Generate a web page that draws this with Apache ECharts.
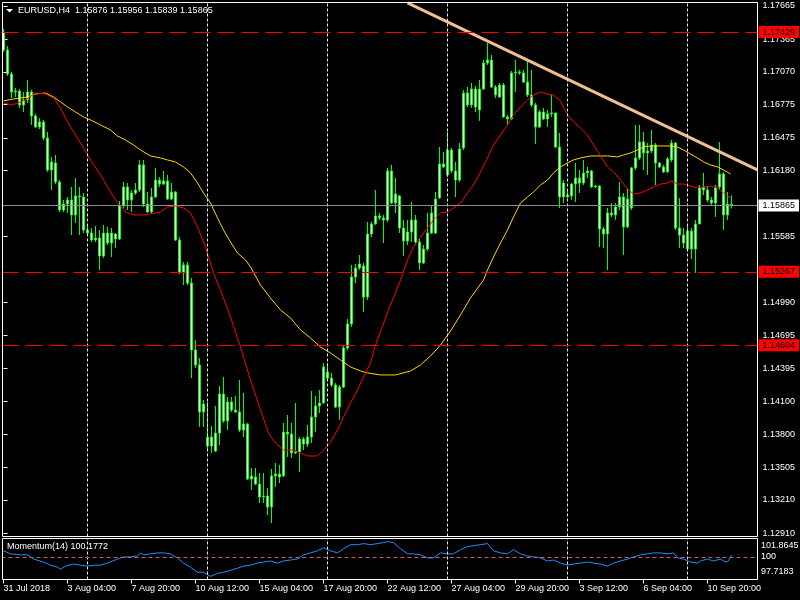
<!DOCTYPE html>
<html><head><meta charset="utf-8">
<script src="https://cdn.jsdelivr.net/npm/echarts@6/dist/echarts.min.js"></script>
<style>html,body{margin:0;padding:0;background:#000}#c{width:800px;height:600px}</style>
</head><body><div id="c"></div>
<script>
// ---- data ----
const tickLabels=['31 Jul 2018','3 Aug 04:00','7 Aug 20:00','10 Aug 12:00','15 Aug 04:00','17 Aug 20:00','22 Aug 12:00','27 Aug 04:00','29 Aug 20:00','3 Sep 12:00','6 Sep 04:00','10 Sep 20:00'];
const priceTicks=[1.12910,1.13210,1.13505,1.13800,1.14100,1.14395,1.14695,1.14990,1.15585,1.16180,1.16475,1.16775,1.17070,1.17365,1.17665];
const levels=[1.17429,1.15267,1.14604];
const bid=1.15865;
const weekStarts=[21,51,81,111,141,171];
const trendX=[101,188.5];
const trendY=[1.17692,1.16186];
const momLabels=[101.8645,100,97.7183];

const opens=[1.17430,1.17268,1.17052,1.16889,1.16898,1.16772,1.16817,1.16889,1.16673,1.16574,
1.16619,1.16474,1.16186,1.16249,1.16077,1.15825,1.15879,1.15915,1.15780,1.15951,
1.15942,1.15644,1.15617,1.15554,1.15572,1.15410,1.15617,1.15527,1.15608,1.15563,
1.15861,1.16032,1.15915,1.15978,1.16005,1.16231,1.15879,1.15807,1.15942,1.16095,
1.16059,1.16086,1.15924,1.15987,1.15554,1.15257,1.15329,1.15166,1.14562,1.14427,
1.14003,1.13777,1.13696,1.13813,1.13813,1.14165,1.13922,1.14093,1.14021,1.14003,
1.13840,1.13895,1.13398,1.13417,1.13353,1.13236,1.13245,1.13146,1.13426,1.13444,
1.13426,1.13822,1.13804,1.13633,1.13642,1.13759,1.13714,1.13777,1.13958,1.14057,
1.14084,1.14364,1.14309,1.14246,1.14048,1.14228,1.14580,1.14797,1.15221,1.15302,
1.15320,1.15040,1.15608,1.15699,1.15771,1.15753,1.15735,1.16177,1.15888,1.15951,
1.15662,1.15545,1.15626,1.15735,1.15536,1.15347,1.15473,1.15617,1.15924,1.15933,
1.16240,1.16141,1.16366,1.16177,1.16095,1.16384,1.16880,1.16772,1.16916,1.16727,
1.16916,1.17151,1.17178,1.16934,1.16844,1.16952,1.16664,1.16646,1.17061,1.17070,
1.17061,1.16979,1.16862,1.16772,1.16574,1.16709,1.16646,1.16691,1.16700,1.16393,
1.15942,1.15960,1.15951,1.16059,1.16113,1.16068,1.16159,1.16177,1.16032,1.16041,
1.15653,1.15608,1.15798,1.15780,1.15852,1.15942,1.15672,1.15843,1.16204,1.16294,
1.16438,1.16339,1.16357,1.16411,1.16249,1.16213,1.16168,1.16276,1.16429,1.15662,
1.15599,1.15473,1.15635,1.15473,1.15699,1.16032,1.16005,1.15915,1.15888,1.16032,
1.16150,1.15780,1.15876];
const closes=[1.17268,1.17052,1.16889,1.16898,1.16772,1.16817,1.16889,1.16673,1.16574,1.16619,
1.16474,1.16186,1.16258,1.16077,1.15825,1.15879,1.15915,1.15780,1.15951,1.15942,
1.15644,1.15617,1.15554,1.15572,1.15410,1.15617,1.15527,1.15617,1.15563,1.15861,
1.16032,1.15915,1.15978,1.16005,1.16231,1.15879,1.15807,1.15942,1.16095,1.16059,
1.16086,1.15924,1.15987,1.15554,1.15257,1.15329,1.15166,1.14562,1.14427,1.14003,
1.14075,1.13696,1.13777,1.13651,1.14165,1.13922,1.14093,1.14021,1.14003,1.13840,
1.13895,1.13398,1.13426,1.13353,1.13236,1.13245,1.13146,1.13426,1.13444,1.13417,
1.13822,1.13804,1.13633,1.13642,1.13759,1.13714,1.13777,1.13958,1.14057,1.14084,
1.14409,1.14309,1.14246,1.14048,1.14228,1.14580,1.14797,1.15221,1.15302,1.15338,
1.15040,1.15608,1.15699,1.15771,1.15753,1.15735,1.16177,1.15888,1.15969,1.15662,
1.15545,1.15626,1.15735,1.15536,1.15347,1.15473,1.15617,1.15798,1.15617,1.16240,
1.16213,1.16366,1.16177,1.16095,1.16375,1.16880,1.16772,1.16916,1.16754,1.16916,
1.17151,1.17178,1.16934,1.16862,1.16952,1.16664,1.16646,1.17061,1.17070,1.17061,
1.16979,1.16862,1.16772,1.16574,1.16709,1.16646,1.16691,1.16700,1.16393,1.15942,
1.16068,1.15942,1.16059,1.16113,1.16068,1.16159,1.16177,1.16032,1.16041,1.15653,
1.15608,1.15798,1.15780,1.15852,1.15942,1.15672,1.15924,1.16204,1.16294,1.16438,
1.16339,1.16357,1.16411,1.16249,1.16213,1.16168,1.16285,1.16429,1.15662,1.15599,
1.15527,1.15635,1.15473,1.15699,1.16032,1.16005,1.15915,1.15888,1.16032,1.16150,
1.15780,1.15879,1.15865];
const highs=[1.17457,1.17304,1.17070,1.16925,1.16916,1.16889,1.16997,1.16907,1.16691,1.16655,
1.16637,1.16528,1.16303,1.16321,1.16095,1.15915,1.15942,1.16032,1.16113,1.16032,
1.15978,1.15690,1.15662,1.15681,1.15644,1.15690,1.15672,1.15662,1.15617,1.15906,
1.16077,1.16068,1.16005,1.16068,1.16276,1.16276,1.15987,1.16023,1.16204,1.16122,
1.16177,1.16141,1.16068,1.15996,1.15581,1.15356,1.15356,1.15211,1.14652,1.14490,
1.14111,1.14093,1.13876,1.14057,1.14237,1.14319,1.14138,1.14138,1.14147,1.14291,
1.14174,1.13904,1.13498,1.13498,1.13453,1.13453,1.13317,1.13489,1.13543,1.13525,
1.13904,1.13976,1.13904,1.14084,1.13777,1.13777,1.13886,1.14192,1.14147,1.14201,
1.14445,1.14445,1.14355,1.14264,1.14246,1.14607,1.14842,1.15329,1.15338,1.15419,
1.15347,1.15717,1.15717,1.16005,1.15798,1.15780,1.16204,1.16231,1.16113,1.15960,
1.15735,1.15735,1.15897,1.15780,1.15572,1.15509,1.15798,1.15870,1.15987,1.16393,
1.16348,1.16528,1.16384,1.16258,1.16429,1.16907,1.16934,1.16970,1.16943,1.16997,
1.17178,1.17331,1.17223,1.16952,1.16970,1.16970,1.16682,1.17079,1.17178,1.17088,
1.17088,1.17178,1.17088,1.16790,1.16727,1.16745,1.16727,1.16862,1.16700,1.16519,
1.16095,1.16005,1.16068,1.16249,1.16186,1.16276,1.16213,1.16186,1.16050,1.16050,
1.15672,1.15843,1.15888,1.15888,1.16077,1.15978,1.16023,1.16213,1.16592,1.16592,
1.16528,1.16429,1.16546,1.16429,1.16258,1.16231,1.16303,1.16456,1.16438,1.15933,
1.15662,1.15690,1.15662,1.15735,1.16050,1.16159,1.16032,1.15942,1.16050,1.16438,
1.16168,1.15987,1.15956];
const lows=[1.17250,1.17034,1.16835,1.16844,1.16745,1.16709,1.16790,1.16592,1.16564,1.16555,
1.16456,1.16168,1.16005,1.16059,1.15807,1.15807,1.15798,1.15599,1.15708,1.15599,
1.15617,1.15608,1.15536,1.15536,1.15284,1.15392,1.15509,1.15401,1.15482,1.15554,
1.15843,1.15825,1.15807,1.15960,1.15987,1.15852,1.15798,1.15789,1.15933,1.16032,
1.16050,1.15915,1.15915,1.15545,1.15248,1.15148,1.15148,1.14309,1.14400,1.13868,
1.13868,1.13660,1.13633,1.13642,1.13705,1.13904,1.13840,1.14003,1.13994,1.13822,
1.13777,1.13389,1.13299,1.13344,1.13182,1.13182,1.13074,1.13002,1.13326,1.13362,
1.13417,1.13597,1.13588,1.13624,1.13462,1.13660,1.13687,1.13723,1.13822,1.13994,
1.14075,1.14291,1.14228,1.14039,1.13931,1.14219,1.14562,1.14770,1.15166,1.15284,
1.14905,1.15013,1.15581,1.15690,1.15735,1.15527,1.15717,1.15879,1.15798,1.15617,
1.15410,1.15509,1.15536,1.15518,1.15284,1.15338,1.15455,1.15608,1.15608,1.15924,
1.16204,1.16122,1.16159,1.15942,1.16077,1.16366,1.16754,1.16745,1.16709,1.16628,
1.16907,1.17133,1.16925,1.16835,1.16835,1.16655,1.16592,1.16637,1.16889,1.17043,
1.16970,1.16844,1.16754,1.16420,1.16564,1.16637,1.16574,1.16664,1.16384,1.15843,
1.15888,1.15933,1.15915,1.15897,1.15978,1.16050,1.16113,1.16023,1.16023,1.15491,
1.15482,1.15284,1.15762,1.15735,1.15825,1.15419,1.15662,1.15825,1.16186,1.16276,
1.16186,1.16141,1.16339,1.16050,1.16204,1.16159,1.16159,1.16258,1.15644,1.15482,
1.15482,1.15464,1.15383,1.15257,1.15699,1.15960,1.15897,1.15870,1.15762,1.16005,
1.15644,1.15735,1.15839];

// red moving average (bar position, price)
const redX=[0,2.25,5.5,8,10.5,12.5,14.25,16,18,20,21.75,24.25,26.75,28.5,30.5,32.5,35,36.75,39.25,41,
43,45,46.75,48.5,50.5,52.5,54.25,56.75,59.25,61.75,64.25,66.25,68,70,72.5,74.25,76,78.5,80,81.75,
83.5,85,86.75,88.5,90,91.75,93,96.25,99.25,101,102.5,104.25,106,107.5,109.25,111,112.5,114.25,116,117.5,
119.25,121,122.5,124.25,126,127.5,129.25,131,132.5,134.25,136,137.5,139.25,141,142.5,144.25,146,147.5,149.25,151,
152.5,154.25,156,157.5,159.25,161,162.5,164.25,166,167,168.5,170,171.75,173.5,175,176.75,178.5,180,181.75];
const redY=[1.16790,1.16772,1.16817,1.16880,1.16871,1.16835,1.16745,1.16619,1.16501,1.16384,
1.16276,1.16141,1.15987,1.15888,1.15807,1.15780,1.15780,1.15789,1.15807,1.15852,
1.15861,1.15843,1.15798,1.15672,1.15491,1.15257,1.15103,1.14860,1.14589,1.14291,
1.14021,1.13813,1.13723,1.13660,1.13660,1.13633,1.13606,1.13606,1.13660,1.13732,
1.13840,1.13958,1.14084,1.14201,1.14319,1.14445,1.14607,1.14923,1.15193,1.15374,
1.15491,1.15581,1.15662,1.15735,1.15798,1.15807,1.15843,1.15888,1.15978,1.16050,
1.16168,1.16294,1.16411,1.16501,1.16592,1.16682,1.16754,1.16817,1.16862,1.16889,
1.16871,1.16862,1.16808,1.16682,1.16619,1.16564,1.16501,1.16411,1.16312,1.16213,
1.16168,1.16095,1.16014,1.15969,1.15978,1.16005,1.16032,1.16059,1.16068,1.16086,
1.16059,1.16059,1.16041,1.16023,1.16032,1.16041,1.16023,1.15978,1.15933];
// yellow moving average
const yelX=[0,2.5,6,8,10.5,12.5,14.25,16,18,20,21.75,24.25,26.75,28.5,30.5,32.5,34.25,36.75,39.25,41,
43,45,46.75,48.5,50,51.75,53.5,55,56.75,58.5,60.5,61.75,64.25,66.75,69.25,71.75,74.25,76.75,79.25,81.75,
84.25,86.75,89.25,91,94.25,98,101.75,104.25,106.75,109.25,111.75,114.25,116.75,120,121,122.5,124.25,126,127.5,129.25,
131,132.5,134.25,136,137.5,139.25,141,142.5,144.25,146.75,151,153.5,155,156.75,158.5,160,161.75,166.75,168.5,170,
171.75,173.5,175,176.75,178.5,180,181.75];
const yelY=[1.16808,1.16826,1.16844,1.16871,1.16880,1.16844,1.16799,1.16754,1.16709,1.16664,
1.16637,1.16592,1.16546,1.16492,1.16456,1.16411,1.16366,1.16312,1.16294,1.16276,
1.16258,1.16213,1.16159,1.16068,1.15978,1.15888,1.15753,1.15644,1.15536,1.15437,
1.15374,1.15311,1.15148,1.15031,1.14923,1.14851,1.14743,1.14670,1.14589,1.14535,
1.14472,1.14409,1.14373,1.14355,1.14337,1.14337,1.14373,1.14427,1.14508,1.14607,
1.14733,1.14878,1.15031,1.15193,1.15284,1.15401,1.15527,1.15644,1.15762,1.15888,
1.15942,1.15987,1.16050,1.16095,1.16159,1.16213,1.16249,1.16276,1.16294,1.16312,
1.16312,1.16303,1.16321,1.16339,1.16366,1.16393,1.16402,1.16402,1.16393,1.16366,
1.16330,1.16294,1.16258,1.16231,1.16213,1.16186,1.16150];
// momentum(14)
const momX=[0,1.75,4.25,6,7.5,10,11.75,13.5,14.25,15.5,17.5,19.25,21,23,24.25,26,28.5,30,31.75,33.5,
34.25,35,36.75,38.5,40,41.75,43.5,45,46.75,48.5,50,51.75,53.5,55,56.75,58.5,60,61.75,63.5,65,
66.75,68.5,70,71.75,73.5,75,76.75,78.5,80,81.75,83.5,85,86.75,88.5,90,91.75,93.5,95,96,97.5,
99.25,101,102.5,104.25,106,107.5,109.25,111,112.5,114.25,116,117.5,119.25,121,122.5,124.25,126,127.5,129.25,131,
132.5,134.25,136,137.5,139.25,141,142.5,144.25,146,147.5,149.25,151,152.5,154.25,156,157.5,159.25,161,162.5,164.25,
166,167.5,168.5,170,171.75,173.5,174.25,176,177.5,179.25,180,181,182];
const momY=[100.62,100.31,100.21,100.21,99.79,99.48,99.17,98.96,98.76,99.07,
99.28,99.17,99.07,99.17,99.17,99.38,99.79,100.00,100.00,100.10,
100.41,100.21,100.31,100.41,100.41,100.31,99.90,99.38,98.96,98.45,
98.45,98.03,98.34,98.45,98.65,98.86,99.07,99.17,99.38,99.48,
99.59,99.38,99.59,99.69,99.79,100.21,100.41,100.62,100.93,100.62,
100.41,100.83,101.24,101.24,101.35,101.24,101.35,101.45,101.55,101.45,
100.83,100.31,100.31,100.21,99.90,99.90,100.41,100.31,100.31,100.73,
101.04,101.14,101.24,101.35,100.62,100.41,100.31,100.73,100.31,100.10,
100.00,99.90,99.59,99.69,99.38,99.17,99.28,99.38,99.48,99.38,
99.28,99.07,99.38,99.59,99.79,100.00,100.21,100.31,100.41,100.41,
100.31,100.41,99.90,99.79,99.48,99.38,99.59,99.79,99.59,99.79,
99.59,99.48,100.1772];

// ---- chart ----
const FONT='"Liberation Sans", Arial, sans-serif';
const cats=Array.from({length:189},(_,i)=>String(i));
const candles=opens.map((o,i)=>[o,closes[i],lows[i],highs[i]]);
const pairs=(xs,ys)=>xs.map((x,i)=>[x,ys[i]]);
const last=opens.length-1;
const f5=v=>Number(v).toFixed(5);
const txt=(x,y,t,extra)=>Object.assign({type:'text',x:x,y:y,silent:true,z:200,
  style:{text:t,fill:'#ffffff',font:'9px '+FONT,verticalAlign:'middle',align:'left'}},extra||{});

const chart=echarts.init(document.getElementById('c'),null,{renderer:'canvas'});
chart.setOption({
  backgroundColor:'#000000',
  animation:false,
  grid:[{left:1.5,top:2.5,width:756,height:534},{left:1.5,top:538.5,width:756,height:41}],
  xAxis:[
    {type:'category',gridIndex:0,data:cats,show:false,boundaryGap:true},
    {type:'value',gridIndex:0,min:-0.5,max:188.5,show:false},
    {type:'category',gridIndex:1,data:cats,boundaryGap:true,
     axisLine:{show:false},splitLine:{show:false},
     axisTick:{show:true,alignWithLabel:true,interval:15,length:4,lineStyle:{color:'#ffffff'}},
     axisLabel:{interval:15,align:'left',margin:5,color:'#ffffff',fontSize:9,fontFamily:FONT,
       formatter:(v,i)=>tickLabels[i/16]||''}},
    {type:'value',gridIndex:1,min:-0.5,max:188.5,show:false}
  ],
  yAxis:[
    {type:'value',gridIndex:0,position:'right',min:1.12880,max:1.17696,
     axisLine:{show:false},splitLine:{show:false},
     axisTick:{show:true,customValues:priceTicks,length:4,lineStyle:{color:'#ffffff'}},
     axisLabel:{customValues:priceTicks,color:'#ffffff',fontSize:9,fontFamily:FONT,margin:5,formatter:v=>f5(v)}},
    {type:'value',gridIndex:1,position:'right',min:momLabels[2],max:momLabels[0],
     axisLine:{show:false},splitLine:{show:false},axisTick:{show:false},axisLabel:{show:false}}
  ],
  series:[
    {type:'line',xAxisIndex:1,yAxisIndex:0,data:[],z:1,silent:true,
     markLine:{silent:true,symbol:['none','none'],precision:5,label:{show:false},
       lineStyle:{color:'#e8e8e8',type:[3,2],width:1},data:weekStarts.map(b=>({xAxis:b}))}},
    {type:'candlestick',xAxisIndex:0,yAxisIndex:0,data:candles,barWidth:3,z:2,silent:true,
     itemStyle:{color:'#ffffff',color0:'#ffffff',borderColor:'#00ff00',borderColor0:'#00ff00',borderWidth:1}},
    {type:'line',xAxisIndex:1,yAxisIndex:0,data:pairs(yelX,yelY),symbol:'none',z:3,silent:true,
     lineStyle:{color:'#ffd700',width:1}},
    {type:'line',xAxisIndex:1,yAxisIndex:0,data:pairs(redX,redY),symbol:'none',z:3,silent:true,
     lineStyle:{color:'#ff0000',width:1}},
    {type:'line',xAxisIndex:1,yAxisIndex:0,data:pairs(trendX,trendY),symbol:'none',z:4,silent:true,
     lineStyle:{color:'#efbf8f',width:3}},
    {type:'line',xAxisIndex:1,yAxisIndex:0,data:[],z:5,silent:true,
     markLine:{silent:true,symbol:['none','none'],precision:5,
       lineStyle:{color:'#ff0000',type:[17,7],width:1},
       label:{show:true,position:'end',distance:1,formatter:p=>f5(p.value),fontSize:9,fontFamily:FONT,
              padding:[2,4,1,4],backgroundColor:'#ff0000',color:'#000000'},
       data:levels.map(v=>({yAxis:v}))}},
    {type:'line',xAxisIndex:1,yAxisIndex:0,data:[],z:5,silent:true,
     markLine:{silent:true,symbol:['none','none'],precision:5,
       lineStyle:{color:'#8c8c8c',type:'solid',width:1},
       label:{show:true,position:'end',distance:1,formatter:p=>f5(p.value),fontSize:9,fontFamily:FONT,
              padding:[2,4,1,4],backgroundColor:'#ffffff',color:'#000000'},
       data:[{yAxis:bid}]}},
    {type:'line',xAxisIndex:3,yAxisIndex:1,data:[],z:1,silent:true,
     markLine:{silent:true,symbol:['none','none'],precision:5,label:{show:false},
       lineStyle:{color:'#e8e8e8',type:[3,2],width:1},data:weekStarts.map(b=>({xAxis:b}))}},
    {type:'line',xAxisIndex:3,yAxisIndex:1,data:[],z:1,silent:true,
     markLine:{silent:true,symbol:['none','none'],precision:5,label:{show:false},
       lineStyle:{color:'#cd5c5c',type:[4,3],width:1},data:[{yAxis:momLabels[1]}]}},
    {type:'line',xAxisIndex:3,yAxisIndex:1,data:pairs(momX,momY),symbol:'none',z:3,silent:true,
     lineStyle:{color:'#1e90ff',width:1}}
  ],
  graphic:[
    {type:'rect',silent:true,z:150,shape:{x:2.5,y:2.5,width:755,height:534},style:{fill:'transparent',stroke:'#ffffff',lineWidth:1}},
    {type:'rect',silent:true,z:150,shape:{x:2.5,y:538.5,width:755,height:41},style:{fill:'transparent',stroke:'#ffffff',lineWidth:1}},
    {type:'polygon',silent:true,z:200,shape:{points:[[6,9],[13,9],[9.5,12.5]]},style:{fill:'#ffffff'}},
    txt(18,11,'EURUSD,H4  '+f5(opens[last])+' '+f5(highs[last])+' '+f5(lows[last])+' '+f5(closes[last])),
    txt(7,547,'Momentum(14) '+momY[momY.length-1].toFixed(4)),
    txt(761,546,momLabels[0].toFixed(4)),
    txt(761,557,String(momLabels[1])),
    txt(761,572,momLabels[2].toFixed(4))
  ]
});
</script>
</body></html>
